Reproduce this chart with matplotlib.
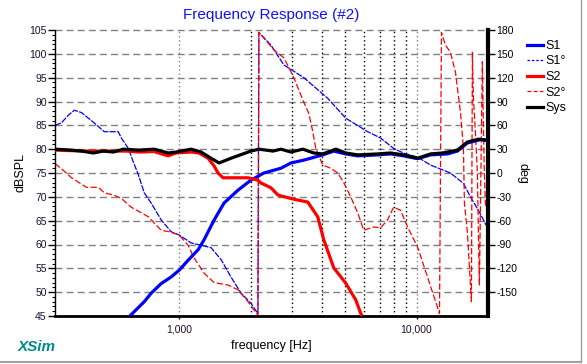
import matplotlib
matplotlib.use("Agg")
import matplotlib.pyplot as plt
from matplotlib.lines import Line2D
from matplotlib.ticker import FixedLocator, NullLocator, FixedFormatter

plt.rcParams['font.family'] = ['Liberation Sans', 'DejaVu Sans']
plt.rcParams['axes.unicode_minus'] = False

# ---------------- data ----------------
s1_f = [620, 713, 763, 840, 926, 1000, 1091, 1202, 1274, 1403, 1546, 1770, 2006, 2276,
        2683, 2955, 3351, 4027, 4480, 5031, 5651, 6856, 7776, 8820, 10097, 11452, 13497,
        14870, 16380, 18575, 20000]
s1_db = [45.0, 48.0, 49.8, 51.8, 53.2, 54.6, 56.7, 58.9, 61.0, 65.1, 68.7, 71.4, 73.5, 75.0,
         76.0, 77.1, 77.7, 78.8, 79.6, 79.0, 78.6, 78.8, 79.0, 78.6, 78.0, 78.8, 79.0,
         79.6, 81.3, 82.0, 81.8]

s2_f = [300, 400, 500, 600, 673, 785, 899, 971, 1123, 1213, 1324, 1403, 1458, 1531, 1950,
        2147, 2211, 2435, 2606, 2683, 3042, 3483, 3837, 4066, 4480, 5031, 5543, 5817, 5900]
s2_db = [79.8, 79.6, 79.6, 79.6, 79.4, 79.5, 78.6, 79.2, 79.4, 79.2, 78.1, 76.5, 75.0, 74.0, 74.0,
         73.5, 72.9, 71.9, 70.4, 70.2, 69.5, 68.9, 65.8, 61.0, 55.1, 51.9, 48.4, 45.6, 45.0]

sys_f = [300, 351, 388, 435, 479, 528, 582, 673, 785, 899, 971, 1123, 1237, 1363, 1473, 1654,
         2006, 2170, 2483, 2683, 2955, 3319, 3692, 4027, 4568, 5031, 5651, 6856, 7776, 8820,
         10097, 11452, 12858, 14870, 16380, 18220, 20000]
sys_db = [80.0, 79.8, 79.6, 79.2, 79.6, 79.4, 80.0, 79.8, 80.0, 79.2, 79.4, 80.0, 79.4, 78.1,
          77.1, 78.1, 79.6, 80.0, 79.6, 80.0, 79.4, 80.0, 79.2, 79.0, 80.0, 79.2, 78.8, 79.0,
          79.2, 78.8, 78.1, 79.0, 79.2, 79.8, 81.5, 82.1, 81.9]

s1p_f = [300, 319, 342, 362, 388, 439, 484, 533, 554, 571, 611, 641, 673, 713, 763, 840, 926,
         1000, 1123, 1237, 1363, 1502, 1654, 1822, 2006, 2147, 2168, 2435, 2762, 3351, 4227,
         5031, 6225, 7058, 8005, 8820, 10097, 11452, 12616, 13895, 15759, 16863, 18220, 20000]
s1p_deg = [60, 63, 73, 79, 76, 63, 52, 52, 52, 44, 31, 14, -2, -25, -38, -59, -74,
           -78, -88, -91, -94, -109, -131, -151, -164, -177, 177, 161, 136, 120, 94,
           69, 52, 44, 31, 25, 20, 10, 5, 0, -13, -30, -47, -70]

s2p_f = [300, 335, 352, 407, 457, 484, 533, 571, 628, 741, 840, 908, 1000, 1091, 1156, 1274,
         1403, 1606, 1770, 1950, 2106, 2147, 2168, 2507, 2762, 3042, 3351, 3517, 3656, 3764,
         4027, 4352, 4657, 4935, 5281, 5651, 5989, 6596, 7058, 7553, 8005, 8568, 9168, 10097,
         11124, 12254, 12494, 12735, 13236, 13895, 14585, 15308, 15759, 15911, 16380, 16700,
         17027, 17192, 17359, 17699, 18044, 18220, 18397, 18937, 19121, 19307, 19495, 19875,
         20000]
s2p_deg = [12, 0, -6, -18, -18, -25, -28, -32, -43, -55, -72, -74, -78, -91, -107, -126,
           -138, -141, -147, -162, -176, -179, 177, 155, 145, 120, 89, 75, 52, 31,
           10, 6, 0, -12, -30, -50, -72, -68, -69, -59, -43, -47, -68, -93,
           -131, -169, -177, 177, 161, 152, 127, 77, 31, -38, -75, -118,
           -162, 152, 95, 52, 0, -75, -141, 140, 60, 1, -38, -50,
           -55]

db_ticks = [45, 50, 55, 60, 65, 70, 75, 80, 85, 90, 95, 100, 105]
deg_ticks = [180, 150, 120, 90, 60, 30, 0, -30, -60, -90, -120, -150]
x_ticks = [1000, 10000]
x_ticklabels = ["1,000", "10,000"]
grid_gray_f = [1000, 10000]
grid_black_f = [2000, 3000, 4000, 5000, 6000, 7000, 8000, 9000]

# ---------------- figure ----------------
W, H = 587, 364
fig = plt.figure(figsize=(W / 100, H / 100), dpi=100)
fig.patch.set_facecolor('white')

L, R, T, B = 55, 488, 30, 316
rect = [L / W, 1 - B / H, (R - L) / W, (B - T) / H]
ax2 = fig.add_axes(rect)          # phase axis (drawn below)
ax = fig.add_axes(rect, sharex=ax2)  # dB axis (drawn on top)
ax.patch.set_visible(False)
ax2.set_facecolor('white')

ax2.set_xscale('log')
ax2.set_xlim(300, 20000)
ax.set_ylim(45, 105)
ax2.set_ylim(-180, 180)

# grid (on lower axis)
for d in deg_ticks:
    ax2.axhline(d, color='#808080', lw=1.0, ls=(0, (5, 3)), zorder=0, clip_on=False)
for f in grid_gray_f:
    ax2.axvline(f, color='#808080', lw=1.0, ls=(0, (1, 2)), zorder=0)
for f in grid_black_f:
    ax2.axvline(f, color='black', lw=1.0, ls=(0, (1, 2)), zorder=0)

# phase curves
S1P_LS = (0, (5, 1))
S2P_LS = (0, (5, 2))
ax2.plot(s1p_f, s1p_deg, color='#0000ff', lw=0.9, ls=S1P_LS, zorder=2)
ax2.plot(s2p_f, s2p_deg, color='#ff0000', lw=0.9, ls=S2P_LS, zorder=2)

# magnitude curves
ax.plot(s1_f, s1_db, color='#0000ff', lw=2.3, zorder=3, solid_capstyle='butt')
ax.plot(s2_f, s2_db, color='#ff0000', lw=2.3, zorder=3, solid_capstyle='butt')
ax.plot(sys_f, sys_db, color='black', lw=2.3, zorder=4, solid_capstyle='butt')

# spines
for s in ['top', 'right', 'bottom', 'left']:
    ax2.spines[s].set_visible(False)
ax2.spines['right'].set_visible(True)
ax2.spines['right'].set_linewidth(3)
ax.spines['top'].set_visible(False)
ax.spines['right'].set_visible(False)
ax.spines['left'].set_linewidth(1.0)
ax.spines['bottom'].set_linewidth(2.0)

# left ticks
ax.yaxis.set_major_locator(FixedLocator(db_ticks))
ax.yaxis.set_minor_locator(FixedLocator(list(range(45, 106))))
ax.tick_params(axis='y', which='major', direction='out', length=5, width=1,
               labelsize=7.5, pad=1, labelcolor='#1a1030')
ax.tick_params(axis='y', which='minor', direction='out', length=2.5, width=0.8)
ax.set_ylabel('dBSPL', fontsize=9, labelpad=2)

# right ticks
ax2.yaxis.tick_right()
ax2.yaxis.set_label_position('right')
ax2.yaxis.set_major_locator(FixedLocator(deg_ticks))
ax2.yaxis.set_minor_locator(NullLocator())
ax2.tick_params(axis='y', which='major', direction='out', length=5, width=1,
                labelsize=7.5, pad=1)
ax2.set_ylabel('deg', fontsize=9, rotation=270, labelpad=8)

# x ticks
ax.xaxis.set_major_locator(FixedLocator(x_ticks))
ax.xaxis.set_major_formatter(FixedFormatter(x_ticklabels))
ax.xaxis.set_minor_locator(NullLocator())
ax.tick_params(axis='x', which='major', length=2, width=1, labelsize=7.5, pad=4,
               labelcolor='#1a1030')
ax2.tick_params(axis='x', which='both', bottom=False, labelbottom=False)
ax.set_xlabel('frequency [Hz]', fontsize=9, labelpad=4)

# title
fig.text((L + R) / 2 / W, 1 - 15 / H, 'Frequency Response (#2)', color='#1010ff',
         fontsize=11, ha='center', va='center')

# legend
handles = [
    Line2D([], [], color='#0000ff', lw=2.3),
    Line2D([], [], color='#0000ff', lw=0.9, ls=(0, (2, 1.5))),
    Line2D([], [], color='#ff0000', lw=2.3),
    Line2D([], [], color='#ff0000', lw=0.9, ls=(0, (3, 2))),
    Line2D([], [], color='black', lw=2.3),
]
labels = ['S1', 'S1°', 'S2', 'S2°', 'Sys']
fig.legend(handles, labels, loc='upper left', bbox_to_anchor=(527 / W, 1 - 40 / H),
           frameon=False, fontsize=9, handlelength=1.25, handletextpad=0.2,
           labelspacing=0.28, borderaxespad=0, borderpad=0)

# XSim logo
fig.text(18 / W, 1 - 347 / H, 'XSim', color='#008b8b', fontsize=11, fontweight='bold',
         fontstyle='italic', ha='left', va='center')

# frame lines
fig.add_artist(Line2D([0, 581 / W], [1 - 362 / H, 1 - 362 / H], color='#a0a0a0', lw=1.5))
fig.add_artist(Line2D([581 / W, 581 / W], [1 - 362 / H, 1], color='#a0a0a0', lw=1.0))

fig.savefig('out.png', dpi=100, facecolor='white')
